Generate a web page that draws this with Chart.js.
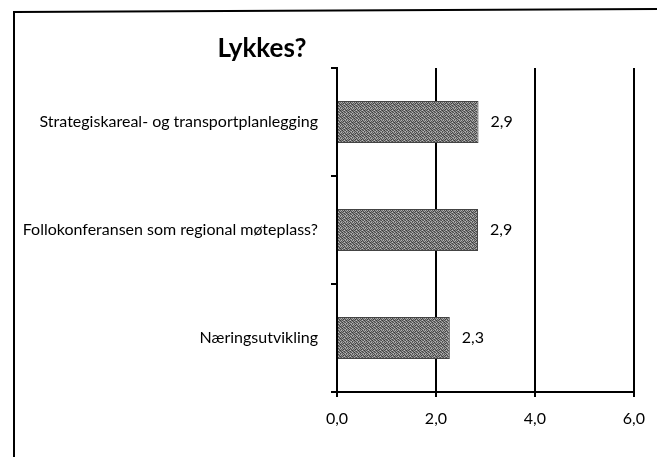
<!DOCTYPE html>
<html>
<head>
<meta charset="utf-8">
<script src="https://cdn.jsdelivr.net/npm/chart.js@4"></script>
<style>
  html, body { margin: 0; padding: 0; background: #fff; }
  #wrap { width: 657px; height: 457px; position: relative; }
</style>
</head>
<body>
<div id="wrap"><canvas id="c" width="657" height="457"></canvas></div>
<script>
const chartTitle = 'Lykkes?';
const categories = [
  'Strategiskareal- og transportplanlegging',
  'Follokonferansen som regional møteplass?',
  'Næringsutvikling'
];
const values = [2.86, 2.85, 2.28];
const xTicks = [0, 2, 4, 6];

// dithered grey texture for the bars
function makePattern() {
  const p = document.createElement('canvas');
  p.width = 6; p.height = 6;
  const g = p.getContext('2d');
  const levels = [
    [90, 170, 70, 150, 110, 180],
    [150, 60, 130, 80, 170, 90],
    [80, 140, 190, 100, 60, 130],
    [170, 100, 70, 150, 120, 80],
    [60, 160, 110, 80, 180, 110],
    [130, 80, 150, 180, 70, 140]
  ];
  for (let y = 0; y < 6; y++) for (let x = 0; x < 6; x++) {
    const v = levels[y][x];
    g.fillStyle = `rgb(${v},${v},${v})`;
    g.fillRect(x, y, 1, 1);
  }
  return g.createPattern(p, 'repeat');
}

const framePlugin = {
  id: 'frame',
  beforeDraw(chart) {
    const ctx = chart.ctx;
    ctx.save();
    ctx.fillStyle = '#fff';
    ctx.fillRect(0, 0, chart.width, chart.height);
    ctx.strokeStyle = '#000';
    ctx.lineWidth = 2;
    ctx.beginPath();
    ctx.moveTo(14, 457);
    ctx.lineTo(14, 12);
    ctx.lineTo(657, 9);
    ctx.stroke();
    // title
    ctx.fillStyle = '#000';
    ctx.font = 'bold 26px Lato';
    ctx.textAlign = 'center';
    ctx.textBaseline = 'alphabetic';
    ctx.fillText(chartTitle, 262, 57);
    ctx.restore();
  },
  afterDatasetsDraw(chart) {
    const ctx = chart.ctx;
    const meta = chart.getDatasetMeta(0);
    ctx.save();
    ctx.fillStyle = '#000';
    ctx.font = '16px Lato';
    ctx.textAlign = 'left';
    ctx.textBaseline = 'middle';
    meta.data.forEach((bar, i) => {
      const txt = values[i].toFixed(1).replace('.', ',');
      ctx.fillText(txt, bar.x + 12, bar.y);
    });
    ctx.restore();
  }
};

new Chart(document.getElementById('c'), {
  type: 'bar',
  data: {
    labels: categories,
    datasets: [{
      data: values,
      backgroundColor: makePattern(),
      borderColor: '#444',
      borderWidth: 1,
      borderSkipped: 'left',
      barPercentage: 0.39,
      categoryPercentage: 1
    }]
  },
  options: {
    indexAxis: 'y',
    responsive: false,
    animation: false,
    devicePixelRatio: 1,
    layout: { padding: { left: 0, right: 18, top: 68, bottom: 0 } },
    plugins: { legend: { display: false }, tooltip: { enabled: false }, title: { display: false } },
    scales: {
      x: {
        min: 0, max: 6,
        afterBuildTicks(scale) { scale.ticks = xTicks.map(v => ({ value: v })); },
        afterFit(scale) { scale.height = 65; },
        grid: { color: '#000', lineWidth: 2, drawTicks: true, tickLength: 5, tickColor: '#000' },
        border: { display: true, color: '#000', width: 2 },
        ticks: {
          color: '#000',
          padding: 12,
          font: { family: 'Lato', size: 16 },
          callback: v => Number(v).toFixed(1).replace('.', ',')
        }
      },
      y: {
        afterFit(scale) { scale.width = 337; },
        grid: { display: true, offset: true, drawOnChartArea: false, drawTicks: true, tickLength: 6, color: '#000', lineWidth: 2 },
        border: { display: true, color: '#000', width: 2 },
        ticks: {
          color: '#000',
          padding: 13,
          font: { family: 'Lato', size: 16 }
        }
      }
    }
  },
  plugins: [framePlugin]
});
</script>
</body>
</html>
